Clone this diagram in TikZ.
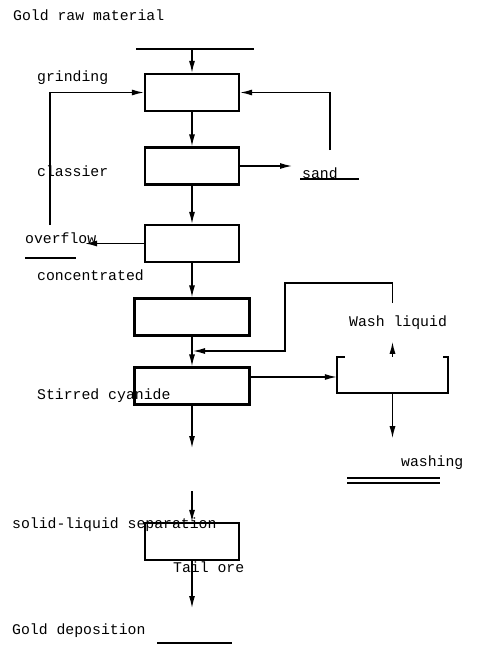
\documentclass[tikz,border=0pt]{standalone}
\usepackage{fontspec}
\setmonofont{Liberation Mono}
\usetikzlibrary{arrows.meta}
\tikzset{
  stage/.style={draw,line width=2.2pt,minimum width=94pt,minimum height=37pt,inner sep=0pt},
  widestage/.style={stage,minimum width=115pt},
  lbl/.style={anchor=base west,inner sep=0pt,font=\ttfamily\fontsize{14.8}{16}\selectfont},
  flow/.style={->,line width=1.3pt},
}
\begin{document}
\begin{tikzpicture}[x=1pt,y=-1pt,>={Latex[length=12pt,width=6pt]}]
  \useasboundingbox (0,0) rectangle (485,666);
  % process stages
  \node[stage] (grind) at (192,92.5) {};
  \node[stage] (classify) at (192,166) {};
  \node[stage] (conc) at (192,243.5) {};
  \node[widestage] (thicken) at (192,317) {};
  \node[widestage] (cyanide) at (192,386) {};
  \node[stage] (sepbox) at (192,541.5) {};
  \node[minimum width=111pt,minimum height=36pt,inner sep=0pt] (tank) at (392.5,375) {};
  \draw[line width=2.2pt] ([xshift=8pt]tank.north west) -- (tank.north west) -- (tank.south west)
    -- (tank.south east) -- (tank.north east) -- ([xshift=-5pt]tank.north east);
  % feed, sand and overflow lines
  \draw[line width=1.8pt] (136,49) -- (254,49);
  \coordinate (feed) at (192,49);
  \draw[line width=1.4pt] (300,179) -- (359,179);
  \draw[line width=1.4pt] (25,258) -- (76,258);
  \draw[line width=1.4pt] (347,478) -- (440,478) (347,483) -- (440,483);
  \draw[line width=1.6pt] (157,643) -- (232,643);
  \coordinate (sandret) at (330,150);
  \coordinate (overret) at (50,225);
  \coordinate (sandtip) at (292,165);
  \coordinate (overtip) at (85,243);
  \coordinate (washtop) at (392.5,303);
  \coordinate (join) at (193,351);
  \coordinate (cyanout) at (192,448);
  \coordinate (sepin) at (192,491);
  \coordinate (tailout) at (192,608);
  % connectors
  \draw[flow] (feed) -- (grind);
  \draw[flow] (sandret) |- (grind.east);
  \draw[flow] (overret) |- (grind.west);
  \draw[flow] (grind) -- (classify);
  \draw[flow] (classify.east) -- (classify.east -| sandtip);
  \draw[flow] (classify) -- (conc);
  \draw[flow] (conc.west) -- (conc.west -| overtip);
  \draw[flow] (conc) -- (thicken);
  \draw[flow] (thicken) -- (cyanide);
  \draw[flow] (washtop) |- (285,283) |- (join);
  \draw[flow] ([yshift=9pt]cyanide.east) -- ([yshift=9pt]cyanide.east -| tank.west);
  \draw[flow] (tank.north) -- ++(0,-15);
  \draw[flow] (tank.south) -- ++(0,45);
  \draw[flow] (cyanide) -- (cyanout);
  \draw[flow] (sepin) -- (sepbox);
  \draw[flow] (sepbox) -- (tailout);
  % labels
  \node[lbl] (rawlbl) at (13,21) {Gold raw material};
  \node[lbl] (grindlbl) at (37,82) {grinding};
  \node[lbl] (classlbl) at (37,176) {classier};
  \node[lbl] (sandlbl) at (302,178) {sand};
  \node[lbl] (overlbl) at (25,243) {overflow};
  \node[lbl] (conclbl) at (37,280) {concentrated};
  \node[lbl] (washlbl) at (349,326) {Wash liquid};
  \node[lbl] (cyanlbl) at (37,399) {Stirred cyanide};
  \node[lbl] (washinglbl) at (401,466) {washing};
  \node[lbl] (seplbl) at (12,528) {solid-liquid separation};
  \node[lbl] (taillbl) at (173,572) {Tail ore};
  \node[lbl] (deplbl) at (12,634) {Gold deposition};
\end{tikzpicture}
\end{document}
